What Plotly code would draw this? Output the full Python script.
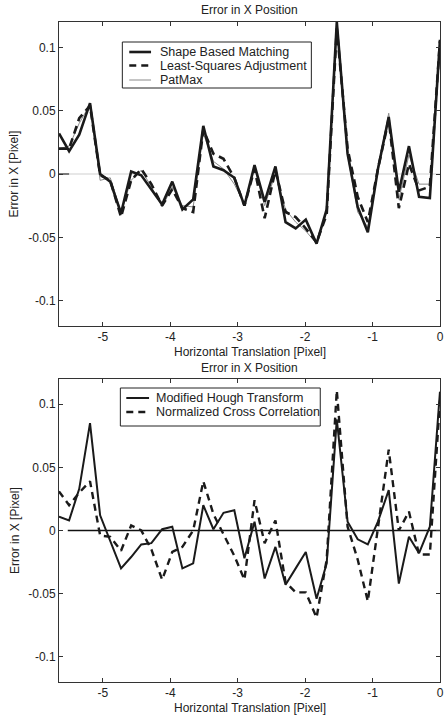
import plotly.graph_objects as go

# ---- data ----
x_shift = [-5.65, -5.50, -5.35, -5.19, -5.04, -4.89, -4.73, -4.58, -4.43, -4.28,
           -4.12, -3.97, -3.82, -3.66, -3.51, -3.36, -3.21, -3.05, -2.90, -2.75,
           -2.60, -2.44, -2.29, -2.14, -1.99, -1.83, -1.68, -1.53, -1.37, -1.22,
           -1.07, -0.92, -0.76, -0.61, -0.46, -0.31, -0.15, 0.0]

shape_based = [0.032, 0.018, 0.031, 0.056, 0.000, -0.006, -0.031, 0.002, -0.001, -0.012,
               -0.024, -0.006, -0.028, -0.020, 0.038, 0.006, 0.003, -0.003, -0.025, 0.007,
               -0.022, 0.006, -0.038, -0.043, -0.036, -0.055, -0.028, 0.120, 0.016, -0.026,
               -0.046, 0.004, 0.045, -0.014, 0.022, -0.018, -0.019, 0.106]

least_squares = [0.020, 0.020, 0.044, 0.054, -0.001, -0.005, -0.034, -0.005, 0.004, -0.008,
                 -0.025, -0.012, -0.027, -0.030, 0.035, 0.016, 0.012, -0.003, -0.025, 0.004,
                 -0.035, 0.003, -0.030, -0.034, -0.043, -0.054, -0.032, 0.115, 0.020, -0.018,
                 -0.038, 0.004, 0.043, -0.027, 0.008, -0.013, -0.010, 0.105]

patmax = [0.020, 0.022, 0.040, 0.055, -0.005, -0.003, -0.030, -0.005, 0.003, -0.010,
          -0.026, -0.010, -0.025, -0.026, 0.032, 0.010, 0.004, -0.008, -0.024, 0.005,
          -0.025, 0.000, -0.028, -0.038, -0.045, -0.055, -0.030, 0.118, 0.015, -0.030,
          -0.042, 0.005, 0.048, -0.020, 0.015, -0.008, -0.008, 0.100]

hough = [0.011, 0.008, 0.033, 0.085, 0.012, -0.008, -0.030, -0.021, -0.011, -0.010,
         0.001, 0.003, -0.030, -0.026, 0.020, 0.001, 0.014, 0.016, -0.022, 0.007,
         -0.038, -0.013, -0.043, -0.030, -0.017, -0.054, -0.026, 0.088, 0.007, -0.007,
         -0.011, 0.007, 0.032, -0.042, -0.005, -0.018, 0.003, 0.110]

ncc = [0.031, 0.020, 0.030, 0.039, -0.004, -0.005, -0.016, 0.004, 0.000, -0.015,
       -0.039, -0.017, -0.013, 0.000, 0.039, 0.013, -0.003, -0.020, -0.039, 0.024,
       -0.010, 0.008, -0.041, -0.049, -0.049, -0.069, -0.023, 0.111, 0.003, -0.023,
       -0.056, 0.003, 0.064, 0.000, 0.015, -0.019, -0.019, 0.103]

x_ticks = [-5, -4, -3, -2, -1, 0]
x_tick_text = ["-5", "-4", "-3", "-2", "-1", "0"]
y_ticks = [-0.1, -0.05, 0, 0.05, 0.1]
y_tick_text = ["-0.1", "-0.05", "0", "0.05", "0.1"]

title_text = "Error in X Position"
xlabel = "Horizontal Translation [Pixel]"
ylabel = "Error in X [Pixel]"

# ---- figure ----
W, H = 446, 716
L, R, T, B = 59, 2, 22, 34
ph = H - T - B
pw = W - L - R

def py(pix):
    return (H - B - pix) / ph

def px(pix):
    return (pix - L) / pw

FONT = "Liberation Sans, Arial, sans-serif"
TXT = "#222222"
INK = "#1a1a1a"

top_series = [
    ("PatMax", patmax, dict(color="#8a8a8a", width=1)),
    ("Least-Squares Adjustment", least_squares, dict(color=INK, width=2.6, dash="8px,5px")),
    ("Shape Based Matching", shape_based, dict(color=INK, width=2.6)),
]
bot_series = [
    ("Normalized Cross Correlation", ncc, dict(color=INK, width=2.4, dash="7px,5px")),
    ("Modified Hough Transform", hough, dict(color=INK, width=2.0)),
]

fig = go.Figure()
for name, ys, ln in top_series:
    fig.add_trace(go.Scatter(x=x_shift, y=ys, mode="lines", name=name, line=ln,
                             xaxis="x", yaxis="y", showlegend=False))
for name, ys, ln in bot_series:
    fig.add_trace(go.Scatter(x=x_shift, y=ys, mode="lines", name=name, line=ln,
                             xaxis="x2", yaxis="y2", showlegend=False))

top_dom = [py(326), 1.0]
bot_dom = [0.0, py(379)]

axis_common = dict(showgrid=False, zeroline=False, showline=True, linecolor="#333333",
                   linewidth=1, mirror="ticks", ticks="inside", ticklen=4, tickcolor="#333333",
                   tickfont=dict(family=FONT, size=12, color=TXT))
xr = [-5.65, 0.0005]

fig.update_layout(
    width=W, height=H, margin=dict(l=L, r=R, t=T, b=B),
    paper_bgcolor="white", plot_bgcolor="white",
    font=dict(family=FONT, size=12, color=TXT),
    xaxis=dict(domain=[0, 1], anchor="y", range=xr, tickvals=x_ticks,
               ticktext=x_tick_text, ticklabeloverflow="allow", **axis_common),
    yaxis=dict(domain=top_dom, anchor="x", range=[-0.12, 0.12], tickvals=y_ticks,
               ticktext=y_tick_text, **axis_common),
    xaxis2=dict(domain=[0, 1], anchor="y2", range=xr, tickvals=x_ticks,
                ticktext=x_tick_text, ticklabeloverflow="allow", **axis_common),
    yaxis2=dict(domain=bot_dom, anchor="x2", range=[-0.12, 0.12], tickvals=y_ticks,
                ticktext=y_tick_text, **axis_common),
    showlegend=False,
)

# zero reference lines
fig.add_shape(type="line", xref="x", yref="y", x0=-5.5, x1=0, y0=0, y1=0,
              line=dict(color="#cfcfcf", width=1), layer="below")
fig.add_shape(type="line", xref="x", yref="y", x0=-5.65, x1=-5.5, y0=0, y1=0,
              line=dict(color="#222222", width=1.2), layer="below")
fig.add_shape(type="line", xref="x2", yref="y2", x0=-5.52, x1=0, y0=0, y1=0,
              line=dict(color="#111111", width=1.3), layer="below")

ann = []

# legends (drawn as box + line samples + text)
def add_legend(box, rows, sample_x, text_x, series_by_name):
    x0, y0, x1, y1 = box
    fig.add_shape(type="rect", xref="paper", yref="paper",
                  x0=px(x0), x1=px(x1), y0=py(y1), y1=py(y0),
                  line=dict(color="#222222", width=1), fillcolor="white", layer="above")
    for name, ry in rows:
        ln = dict(series_by_name[name])
        fig.add_shape(type="line", xref="paper", yref="paper",
                      x0=px(sample_x[0]), x1=px(sample_x[1]), y0=py(ry), y1=py(ry),
                      line=ln, layer="above")
        ann.append(dict(text=name, x=px(text_x), y=py(ry), xref="paper", yref="paper",
                        xanchor="left", yanchor="middle", showarrow=False,
                        font=dict(family=FONT, size=12.5, color=TXT)))

top_lines = {n: ln for n, _, ln in top_series}
top_lines["Least-Squares Adjustment"] = dict(color=INK, width=2.6, dash="7px,5px")
add_legend((123, 42, 314, 88),
           [("Shape Based Matching", 52), ("Least-Squares Adjustment", 65.5), ("PatMax", 80)],
           (130, 152), 159, top_lines)
bot_lines = {n: ln for n, _, ln in bot_series}
add_legend((121, 388, 323, 426),
           [("Modified Hough Transform", 398), ("Normalized Cross Correlation", 412)],
           (127, 150), 155.5, bot_lines)

# titles and axis labels
for ty, xy, yc in [(10, 352, 174), (368, 708, 530.5)]:
    ann.append(dict(text=title_text, x=0.5, y=py(ty), xref="paper", yref="paper",
                    xanchor="center", yanchor="middle", showarrow=False,
                    font=dict(family=FONT, size=12, color=TXT)))
    ann.append(dict(text=xlabel, x=0.5, y=py(xy), xref="paper", yref="paper",
                    xanchor="center", yanchor="middle", showarrow=False,
                    font=dict(family=FONT, size=12, color=TXT)))
    ann.append(dict(text=ylabel, x=px(14), y=py(yc), xref="paper", yref="paper",
                    xanchor="center", yanchor="middle", showarrow=False, textangle=-90,
                    font=dict(family=FONT, size=12, color=TXT)))
fig.update_layout(annotations=ann)

fig.write_html("out.html")
